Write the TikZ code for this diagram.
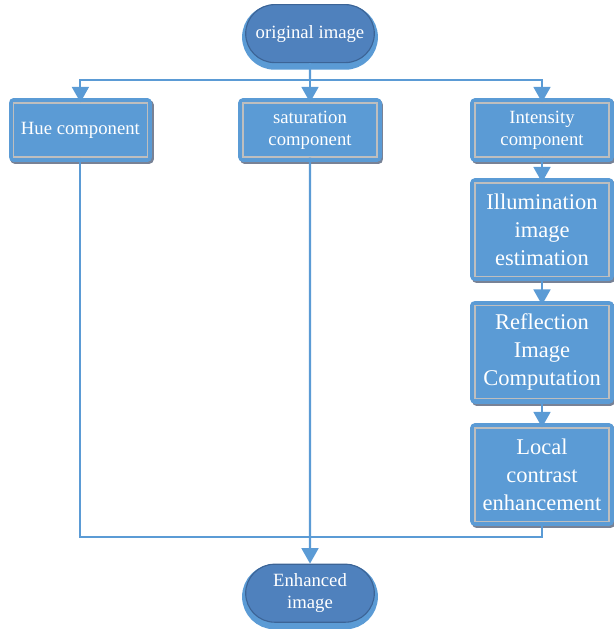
\documentclass[tikz,border=0pt]{standalone}
\usepackage{fontspec}
\setmainfont{Liberation Serif}
\usepackage{tikz}
\usetikzlibrary{positioning,arrows.meta,shapes.misc}
\definecolor{boxblue}{RGB}{91,155,213}
\definecolor{framegray}{RGB}{190,190,190}
\definecolor{shadowgray}{RGB}{120,130,150}
\definecolor{termblue}{RGB}{79,129,189}
\definecolor{termedge}{RGB}{60,100,150}
\definecolor{linkblue}{RGB}{91,155,213}
\tikzset{proc box/.style={rectangle,fill=boxblue,draw=framegray,line width=0.9pt,text=white,align=center,minimum width=3.35cm,inner sep=1pt,
		preaction={draw=shadowgray,fill=shadowgray,line width=0.24cm,line join=round,transform canvas={xshift=1.2pt,yshift=-1.5pt}},
		preaction={draw=boxblue,fill=boxblue,line width=0.24cm,line join=round}},
	small box/.style={proc box,minimum height=1.35cm,font=\fontsize{13.3}{15.5}\selectfont},
	big box/.style={proc box,minimum height=2.33cm,font=\fontsize{16}{20}\selectfont},
	term node/.style={rounded rectangle,fill=termblue,draw=termedge,line width=0.8pt,text=white,align=center,minimum width=3.45cm,minimum height=1.45cm,font=\fontsize{13.3}{15.5}\selectfont,
		preaction={fill=boxblue,draw=boxblue,line width=0.18cm,transform canvas={yshift=-2.5pt}}},
	flow/.style={draw=linkblue,line width=1.5pt,-{Triangle[length=11pt,width=12pt]}},
	link/.style={draw=linkblue,line width=1.5pt},
}

\begin{document}
\begin{tikzpicture}
	\useasboundingbox (0,0) rectangle (15.35,-15.725);
	
	%% nodes
	\node[term node] (orig) at (7.75,-0.84) {original image};
	\node[small box] (hue) at (2.01,-3.25) {Hue component};
	\node[small box] (sat) at (7.75,-3.25) {saturation\\component};
	\node[small box] (inten) at (13.55,-3.25) {Intensity\\component};
	\node[big box] (illum) [below = 0.62cm of inten] {Illumination\\image\\estimation};
	\node[big box] (refl) [below = 0.7cm of illum] {Reflection\\Image\\Computation};
	\node[big box] (local) [below = 0.7cm of refl] {Local\\contrast\\enhancement};
	\node[term node] (enh) at (7.75,-14.83) {Enhanced\\image};
	\coordinate (split) at (7.75,-2.0);
	\coordinate (merge) at (7.75,-13.425);
	
	%% connectors
	\path[link] (orig) -- (split);
	\path[flow] (split) -| (hue);
	\path[flow] (split) -| (inten);
	\path[flow] (split) -- (sat);
	\path[flow] (inten) -- (illum);
	\path[flow] (illum) -- (refl);
	\path[flow] (refl) -- (local);
	\path[link] (hue) |- (merge) -| (local);
	\path[flow] (sat) -- (enh);
\end{tikzpicture}
\end{document}
